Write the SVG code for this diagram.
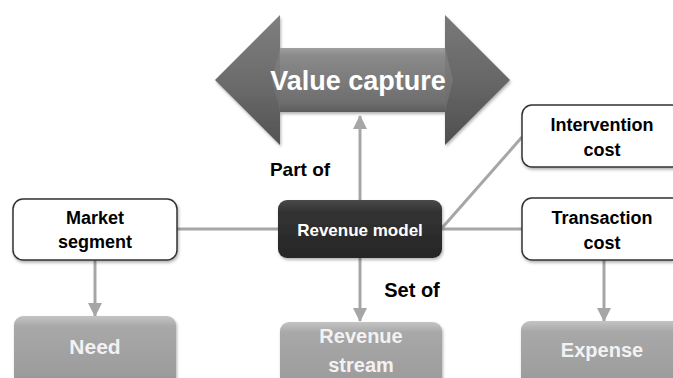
<svg xmlns="http://www.w3.org/2000/svg" width="673" height="378" viewBox="0 0 673 378">
<defs>
<linearGradient id="arrowG" x1="0" y1="0" x2="0" y2="1">
<stop offset="0" stop-color="#8a8a8a"/>
<stop offset="0.5" stop-color="#767676"/>
<stop offset="1" stop-color="#5a5a5a"/>
</linearGradient>
<linearGradient id="bodyG" x1="0" y1="0" x2="0" y2="1">
<stop offset="0" stop-color="#a0a0a0"/>
<stop offset="0.12" stop-color="#8a8a8a"/>
<stop offset="0.85" stop-color="#6e6e6e"/>
<stop offset="1" stop-color="#5c5c5c"/>
</linearGradient>
<linearGradient id="grayG" x1="0" y1="0" x2="0" y2="1">
<stop offset="0" stop-color="#c4c4c4"/>
<stop offset="0.15" stop-color="#a8a8a8"/>
<stop offset="0.85" stop-color="#9c9c9c"/>
<stop offset="1" stop-color="#8a8a8a"/>
</linearGradient>
<linearGradient id="darkG" x1="0" y1="0" x2="0" y2="1">
<stop offset="0" stop-color="#4a4a4a"/>
<stop offset="0.2" stop-color="#333333"/>
<stop offset="1" stop-color="#262626"/>
</linearGradient>
<filter id="sh" x="-10%" y="-10%" width="120%" height="130%">
<feDropShadow dx="1" dy="2" stdDeviation="1.5" flood-color="#000" flood-opacity="0.3"/>
</filter>
<marker id="ah" viewBox="0 0 14 14" refX="13" refY="7" markerWidth="14" markerHeight="14" markerUnits="userSpaceOnUse" orient="auto">
<path d="M0,0 L14,7 L0,14 Z" fill="#a6a6a6"/>
</marker>
</defs>
<style>
.t{font-family:"Liberation Sans",Arial,sans-serif;font-weight:bold;text-anchor:middle}
.w{fill:#ffffff;stroke:#333333;stroke-width:1.5}
.g{fill:url(#grayG)}
.gt{fill:#f2f2f2}
.c{stroke:#a6a6a6;stroke-width:3;fill:none}
</style>
<g id="value-capture">
<polygon points="215,80 280,15 280,48 445,48 445,15 510,80 445,145 445,112 280,112 280,145" fill="url(#arrowG)" filter="url(#sh)"/>
<rect x="280" y="48" width="165" height="64" fill="url(#bodyG)"/>
<polygon points="215,80 280,15 280,48 272,80 280,112 280,145" fill="#000" opacity="0.08"/>
<polygon points="510,80 445,15 445,48 453,80 445,112 445,145" fill="#000" opacity="0.12"/>
<text class="t" x="358" y="90" font-size="27" fill="#ffffff">Value capture</text>
</g>
<g id="connectors">
<line class="c" x1="360" y1="200" x2="360" y2="116" marker-end="url(#ah)"/>
<line class="c" x1="177" y1="229" x2="278" y2="229"/>
<line class="c" x1="442" y1="229" x2="522" y2="229"/>
<line class="c" x1="442" y1="228" x2="522" y2="137"/>
<line class="c" x1="95" y1="260" x2="95" y2="316" marker-end="url(#ah)"/>
<line class="c" x1="360" y1="258" x2="360" y2="321" marker-end="url(#ah)"/>
<line class="c" x1="604" y1="260" x2="604" y2="321" marker-end="url(#ah)"/>
<text class="t" x="300" y="176" font-size="19" fill="#000">Part of</text>
<text class="t" x="412" y="297" font-size="20" fill="#000">Set of</text>
</g>
<g id="revenue-model">
<rect x="278" y="200" width="164" height="58" rx="9" fill="url(#darkG)" filter="url(#sh)"/>
<text class="t" x="360" y="236" font-size="17" fill="#ffffff">Revenue model</text>
</g>
<g id="market-segment">
<rect class="w" x="13" y="199" width="164" height="61" rx="10" filter="url(#sh)"/>
<text class="t" x="95" y="224" font-size="18" fill="#000">Market</text>
<text class="t" x="95" y="248" font-size="18" fill="#000">segment</text>
</g>
<g id="intervention-cost">
<rect class="w" x="522" y="105" width="160" height="62" rx="10" filter="url(#sh)"/>
<text class="t" x="602" y="131" font-size="18" fill="#000">Intervention</text>
<text class="t" x="602" y="156" font-size="18" fill="#000">cost</text>
</g>
<g id="transaction-cost">
<rect class="w" x="522" y="198" width="160" height="62" rx="10" filter="url(#sh)"/>
<text class="t" x="602" y="224" font-size="18" fill="#000">Transaction</text>
<text class="t" x="602" y="249" font-size="18" fill="#000">cost</text>
</g>
<g id="need">
<rect class="g" x="14" y="316" width="162" height="70" rx="9" filter="url(#sh)"/>
<text class="t gt" x="95" y="354" font-size="21">Need</text>
</g>
<g id="revenue-stream">
<rect class="g" x="280" y="322" width="162" height="70" rx="9" filter="url(#sh)"/>
<text class="t gt" x="361" y="343" font-size="20">Revenue</text>
<text class="t gt" x="361" y="372" font-size="20">stream</text>
</g>
<g id="expense">
<rect class="g" x="521" y="321" width="162" height="70" rx="9" filter="url(#sh)"/>
<text class="t gt" x="602" y="357" font-size="20">Expense</text>
</g>
</svg>
